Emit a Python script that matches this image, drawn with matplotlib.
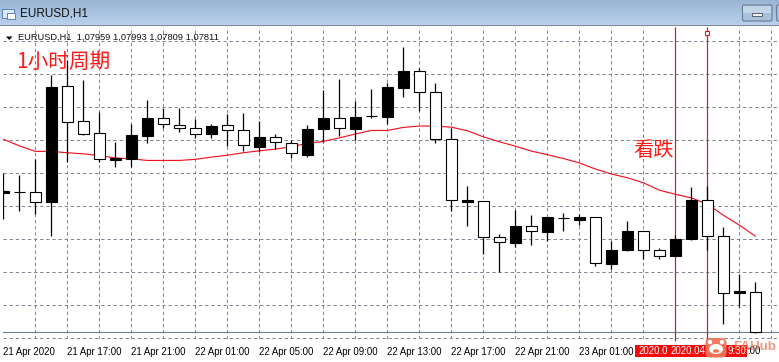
import numpy as np
import matplotlib
matplotlib.use("Agg")
import matplotlib.pyplot as plt
from matplotlib.patches import Rectangle, FancyBboxPatch, Circle, Ellipse, Polygon

W, H = 779, 362
plt.rcParams['font.family'] = ['Liberation Sans', 'DejaVu Sans']
plt.rcParams['lines.scale_dashes'] = False

# EUR/USD hourly bars, prices in units of 1e-5
opens = [108318,108320,108320,108286,108705,108578,108534,108438,108442,108526,108589,108563,
         108553,108533,108563,108545,108486,108520,108500,108457,108551,108589,108551,108596,
         108595,108700,108760,108683,108513,108286,108287,108156,108137,108196,108177,108225,
         108220,108229,108060,108111,108178,108112,108089,108150,108294,108163,107955,107959]
highs = [108390,108383,108441,108746,108801,108728,108611,108503,108568,108655,108625,108627,
         108586,108568,108606,108608,108580,108532,108510,108565,108693,108732,108652,108695,
         108716,108848,108771,108717,108554,108343,108288,108168,108255,108237,108230,108244,
         108241,108230,108144,108215,108179,108117,108164,108339,108343,108194,108025,107993]
lows = [108224,108253,108241,108161,108429,108528,108429,108413,108412,108500,108555,108540,
        108518,108517,108489,108470,108465,108477,108446,108449,108504,108525,108510,108590,
        108569,108667,108617,108500,108252,108198,108097,108031,108120,108129,108143,108180,
        108202,108053,108040,108107,108077,108077,108088,108148,108110,107842,107903,107809]
closes = [108326,108320,108286,108703,108577,108533,108440,108446,108528,108590,108569,108553,
          108533,108561,108545,108491,108521,108502,108462,108550,108590,108553,108594,108596,
          108702,108761,108683,108513,108291,108293,108156,108138,108196,108178,108229,108225,
          108230,108062,108109,108178,108109,108089,108152,108292,108163,107956,107962,107811]
moving_avg = [108513,108489,108469,108469,108464,108460,108454,108445,108442,108436,108436,108436,
              108440,108448,108455,108464,108471,108477,108486,108498,108505,108518,108532,108545,
              108545,108556,108561,108561,108557,108544,108522,108504,108488,108470,108457,108443,
              108427,108405,108387,108373,108355,108328,108313,108300,108277,108237,108201,108161]
time_labels = ['21 Apr 2020','21 Apr 17:00','21 Apr 21:00','22 Apr 01:00','22 Apr 05:00','22 Apr 09:00',
               '22 Apr 13:00','22 Apr 17:00','22 Apr 21:00','23 Apr 01:00']
header = 'EURUSD,H1  1,07959 1,07993 1,07809 1,07811'
marker_hours = [42, 44]

O, Hi, Lo, C = [np.array(a) / 1e5 for a in (opens, highs, lows, closes)]
MA = np.array(moving_avg) / 1e5
X = np.arange(len(O))

fig = plt.figure(figsize=(W / 100, H / 100), dpi=100, facecolor='white')

def px(v):
    return v * 0.72

# pixel-space layer for window chrome
bg = fig.add_axes([0, 0, 1, 1], zorder=0)
bg.set_xlim(0, W); bg.set_ylim(H, 0); bg.axis('off')
grad = np.linspace(0, 1, 26)[:, None, None]
c0 = np.array([0.60, 0.71, 0.83]); c1 = np.array([0.73, 0.82, 0.93])
bg.imshow(c0 + (c1 - c0) * grad, extent=(0, W, 25, 0), aspect='auto', zorder=1)
bg.set_xlim(0, W); bg.set_ylim(H, 0)
bg.add_patch(Rectangle((0, 25), W, 1.3, fc='#7d858f', ec='none', zorder=2))

ax = fig.add_axes([3 / W, (H - 339) / H, (W - 3) / W, 312 / H], zorder=1)
ax.patch.set_alpha(0)
ax.set_xlim(-0.019, 48.48)
ax.set_ylim(1.07787, 1.08921)
for s in ax.spines.values():
    s.set_visible(False)

grid_col = '#7c8896'
dash = (0, (2.4, 2.0))
ax.set_yticks(1.0779 + 0.0012 * np.arange(10))
ax.set_xticks(np.arange(0, 40, 4))
ax.set_xticks(np.arange(2, 50, 2), minor=True)
ax.xaxis.remove_overlapping_locs = False
ax.set_xticklabels(time_labels, ha='left', fontsize=6.9, color='black')
ax.tick_params(axis='x', which='both', length=0, pad=5.6)
ax.tick_params(axis='y', which='both', length=0, labelleft=False)
ax.grid(True, axis='y', which='major', color=grid_col, lw=px(1), ls=dash, zorder=0)
ax.grid(True, axis='x', which='minor', color=grid_col, lw=px(1), ls=dash, zorder=0)
ax.grid(False, axis='x', which='major')
ax.set_axisbelow(True)
ax.axhline(closes[-1] / 1e5, color='#6f7f8e', lw=px(1.1), zorder=1)

ax.plot(X, MA, color='#f01020', lw=px(1.15), zorder=2)
red = '#e8101c'
for h in marker_hours:
    ax.vlines(h, 1.0778, 1.0892, color=red, lw=px(1.2), zorder=2.5, clip_on=False)
ax.plot([marker_hours[1]], [1.08901], marker='s', ms=3.2, mfc='white', mec=red, mew=px(1.1), zorder=2.6, clip_on=False)

ax.vlines(X, Lo, Hi, color='black', lw=px(1.25), zorder=3)
for x, o, c in zip(X, O, C):
    bull = c >= o
    bot, top = min(o, c), max(o, c)
    ax.bar(x, top - bot, bottom=bot, width=0.66, color='black' if bull else 'white',
           edgecolor='black', linewidth=px(1.1), zorder=4)

# foreground: labels, header, chrome
fg = fig.add_axes([0, 0, 1, 1], zorder=3)
fg.set_xlim(0, W); fg.set_ylim(H, 0); fg.axis('off'); fg.patch.set_alpha(0)

cjk = ['Noto Sans CJK SC', 'DejaVu Sans']
fg.text(16.5, 62, '1小时周期', color='#ff1a1a', fontsize=14.9, family=cjk, va='center', ha='left')
fg.text(633.5, 150.5, '看跌', color='#ff1a1a', fontsize=14.6, family=cjk, va='center', ha='left')
fg.text(20, 13.5, 'EURUSD,H1', color='#111111', fontsize=8.5, va='center', ha='left')
fg.text(18, 37.7, header, color='#111111', fontsize=6.65, va='center', ha='left')
fg.add_patch(Polygon([(6, 36.5), (12.5, 36.5), (9.2, 40)], fc='black', ec='none'))

# title-bar icon
fg.add_patch(Rectangle((2.5, 8.5), 11.5, 9.5, fc='#dbe8f6', ec='#5d86bb', lw=px(1)))
fg.add_patch(Rectangle((7, 12.5), 8.5, 6.5, fc='white', ec='#5d86bb', lw=px(1)))
# window buttons
fg.add_patch(FancyBboxPatch((742.5, 5), 29.5, 16, boxstyle='round,pad=0,rounding_size=1.6',
                            fc='#a9c1dc', ec='#6b7f96', lw=px(1.2)))
fg.add_patch(Rectangle((743.5, 6), 27.5, 6.5, fc='#c3d5e9', ec='none'))
fg.add_patch(Rectangle((751.7, 12.7), 10.5, 3.6, fc='#f2f2f2', ec='#5a6570', lw=px(1)))
fg.add_patch(FancyBboxPatch((776.5, 5), 6, 16, boxstyle='round,pad=0,rounding_size=1.6',
                            fc='#a9c1dc', ec='#6b7f96', lw=px(1.2), clip_on=True))

# red crosshair time labels
fg.add_patch(Rectangle((635, 345), 112, 11.5, fc='#f50a0a', ec='none', zorder=5))
fg.text(639, 350.7, '2020.0', color='white', fontsize=6.9, va='center', ha='left', zorder=6)
fg.text(671, 350.7, '2020.04.', color='white', fontsize=6.9, va='center', ha='left', zorder=6)
fg.text(728, 350.7, '9:30', color='white', fontsize=6.9, va='center', ha='left', zorder=6)
fg.text(747.5, 350.7, ':00', color='black', fontsize=6.9, va='center', ha='left', zorder=4)

# watermark
wm = '#ef7557'
fg.add_patch(FancyBboxPatch((705.5, 338), 21, 19.5, boxstyle='round,pad=0,rounding_size=5',
                            fc=wm, ec='none', alpha=0.95, zorder=7))
fg.add_patch(Ellipse((716, 349), 14, 10, fc='white', ec='none', zorder=8))
fg.add_patch(Circle((710, 342), 2.2, fc='white', ec='none', zorder=8))
fg.add_patch(Circle((722, 342), 2.2, fc='white', ec='none', zorder=8))
fg.add_patch(Ellipse((716, 351), 6, 3.6, fc=wm, ec='none', zorder=9))
fg.text(733, 346.5, 'FAHub', color=wm, alpha=0.75, fontsize=9.6, fontweight='bold', va='center', ha='left', zorder=7)

fig.savefig('out.png', dpi=100, facecolor='white')
